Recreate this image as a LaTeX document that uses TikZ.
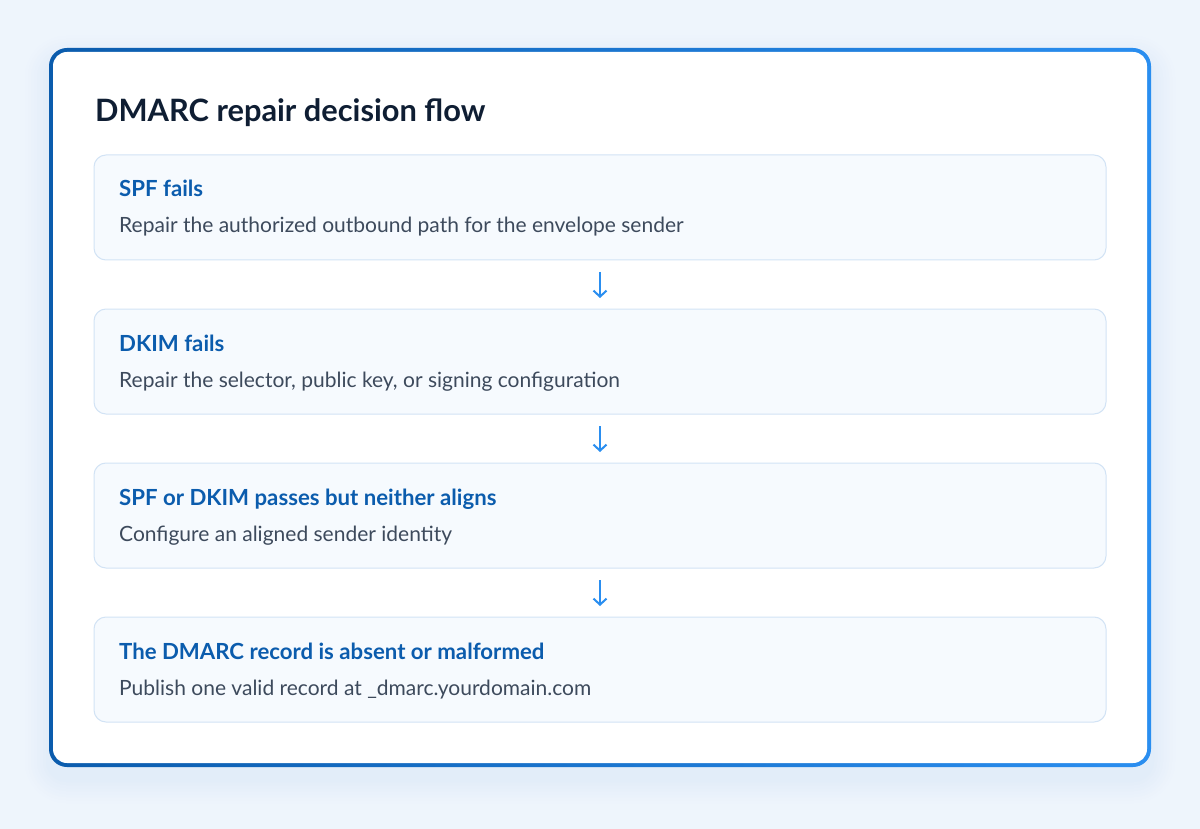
\documentclass[tikz,border=0pt]{standalone}
\usepackage{fontspec}
\setmainfont{Lato}
\usetikzlibrary{arrows.meta}
\definecolor{bg}{HTML}{EEF5FC}
\definecolor{frameA}{HTML}{0B5CAD}
\definecolor{frameB}{HTML}{2A8EF0}
\definecolor{boxfill}{HTML}{F6FAFE}
\definecolor{boxline}{HTML}{D2E3F5}
\definecolor{headc}{HTML}{0B5CAD}
\definecolor{bodyc}{HTML}{3D4A5C}
\definecolor{titlec}{HTML}{0F1E33}
\definecolor{arrc}{HTML}{2A8EF0}
\tikzset{
  stepbox/.style={draw=boxline, line width=1pt, fill=boxfill, rounded corners=12pt,
    minimum width=1012pt, minimum height=105pt, anchor=north west, inner sep=0pt, outer sep=0pt},
  headtxt/.style={anchor=base west, inner sep=0pt, text=headc, font=\fontsize{22.2}{26}\selectfont\bfseries},
  bodytxt/.style={anchor=base west, inner sep=0pt, text=bodyc, font=\fontsize{21}{25}\selectfont},
  flowarrow/.style={draw=arrc, line width=2pt, -{Straight Barb[length=6pt,width=13pt,line width=2pt]},
    shorten <=12pt, shorten >=11pt}
}
\begin{document}
\begin{tikzpicture}[x=1pt,y=-1pt]
\useasboundingbox (0,0) rectangle (1200,829);
\fill[bg] (0,0) rectangle (1200,829);
% soft shadow (opaque layers, progressively deeper blue)
\foreach \i/\c in {24/EDF4FC,21/ECF3FB,18/EAF2FB,15/E9F1FB,12/E7F0FA,9/E6EFFA,6/E4EEF9,3/E2EDF9}{
  \pgfmathsetmacro{\r}{18+\i}
  \definecolor{shc}{HTML}{\c}
  \fill[shc, rounded corners=\r pt] (49-\i,60-\i) rectangle (1151+\i,779+\i);
}
% card frame
\shade[left color=frameA, right color=frameB, rounded corners=18pt] (49,48) rectangle (1151,767);
\fill[white, rounded corners=14pt] (53,52) rectangle (1147,763);
% title
\node[anchor=base west, inner sep=0pt, text=titlec, font=\fontsize{30.8}{36}\selectfont\bfseries] (title) at (95,122) {DMARC repair decision flow};
% boxes
\node[stepbox] (b1) at (94,155) {};
\node[stepbox] (b2) at (94,309) {};
\node[stepbox] (b3) at (94,463) {};
\node[stepbox] (b4) at (94,617) {};
% texts
\node[headtxt] (h1) at (119,197) {SPF fails};
\node[bodytxt] (t1) at (119,233) {Repair the authorized outbound path for the envelope sender};
\node[headtxt] (h2) at (119,351) {DKIM fails};
\node[bodytxt] (t2) at (119,387) {Repair the selector, public key, or signing configuration};
\node[headtxt] (h3) at (119,505) {SPF or DKIM passes but neither aligns};
\node[bodytxt] (t3) at (119,541) {Configure an aligned sender identity};
\node[headtxt] (h4) at (119,659) {The DMARC record is absent or malformed};
\node[bodytxt] (t4) at (119,695) {Publish one valid record at \_dmarc.yourdomain.com};
% arrows
\draw[flowarrow] (b1.south) -- (b2.north);
\draw[flowarrow] (b2.south) -- (b3.north);
\draw[flowarrow] (b3.south) -- (b4.north);
\end{tikzpicture}
\end{document}
